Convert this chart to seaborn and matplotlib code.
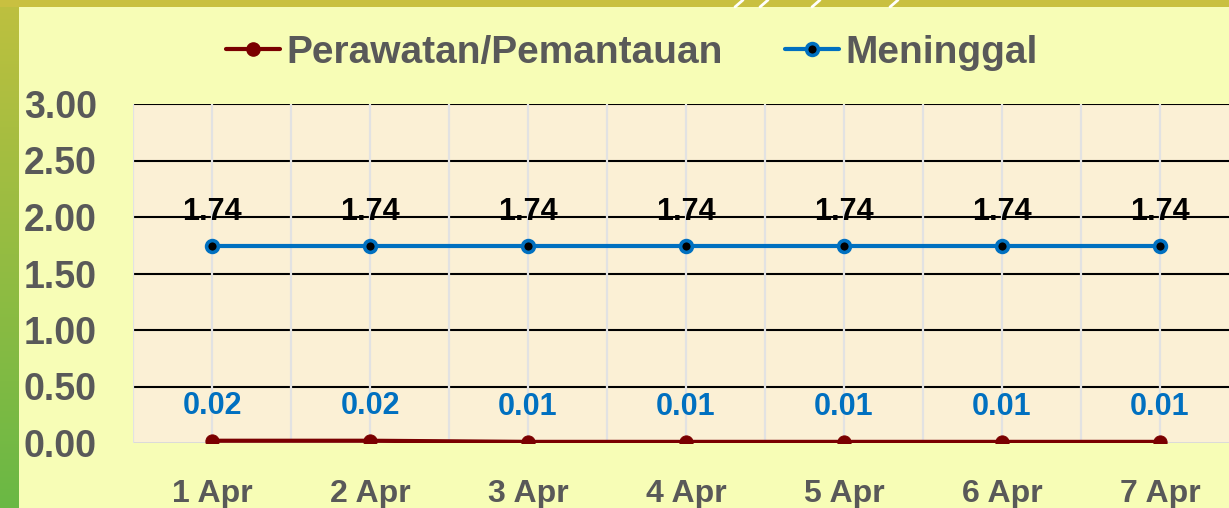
import numpy as np
import pandas as pd
import matplotlib
matplotlib.use("Agg")
import matplotlib.pyplot as plt
import seaborn as sns
from matplotlib.lines import Line2D
from matplotlib.patches import Rectangle
from matplotlib.colors import LinearSegmentedColormap

# ---- data ----
dates = ["1 Apr", "2 Apr", "3 Apr", "4 Apr", "5 Apr", "6 Apr", "7 Apr"]
perawatan = [0.02, 0.02, 0.01, 0.01, 0.01, 0.01, 0.01]
meninggal = [1.74, 1.74, 1.74, 1.74, 1.74, 1.74, 1.74]
series_names = ["Perawatan/Pemantauan", "Meninggal"]
yticks = [0.0, 0.5, 1.0, 1.5, 2.0, 2.5, 3.0]

sns.set_theme(style="white")
plt.rcParams['font.family'] = ['Liberation Sans', 'DejaVu Sans']

W, H = 1229, 508
fig = plt.figure(figsize=(W / 100, H / 100), dpi=100)
fig.patch.set_facecolor("#F7FDB6")

# decorative frame strips
fig.patches.append(Rectangle((0, 1 - 7 / H), 1, 7 / H, transform=fig.transFigure,
                             facecolor="#C9C040", edgecolor="none", zorder=0))
grad = np.linspace(0, 1, 256).reshape(-1, 1)
cmap = LinearSegmentedColormap.from_list("g", ["#BEC03F", "#6AB845"])
gax = fig.add_axes([0, 0, 19 / W, 1])
gax.imshow(grad, aspect="auto", cmap=cmap, extent=[0, 1, 0, 1], origin="upper")
gax.axis("off")
for x0 in [735, 760, 812, 890]:
    fig.add_artist(Line2D([x0 / W, (x0 + 8) / W], [1 - 7 / H, 1.0], transform=fig.transFigure,
                          color="white", lw=2.0, zorder=5))

left = 133 / W
bottom = (H - 443) / H
width = (1239 - 133) / W
height = (443 - 104) / H
ax = fig.add_axes([left, bottom, width, height])
ax.set_facecolor("#FBF0D5")

df = pd.DataFrame({"date": dates * 2,
                   "value": perawatan + meninggal,
                   "series": [series_names[0]] * 7 + [series_names[1]] * 7})

red = "#7A0000"
blue = "#0070C0"

d1 = df[df.series == series_names[0]]
d2 = df[df.series == series_names[1]]
sns.lineplot(data=d1, x="date", y="value", ax=ax, color=red, lw=3, marker="o",
             markersize=9.5, markerfacecolor=red, markeredgecolor=red, sort=False,
             legend=False, zorder=4)
sns.lineplot(data=d2, x="date", y="value", ax=ax, color=blue, lw=3, marker="o",
             markersize=8.5, markerfacecolor="black", markeredgecolor=blue,
             markeredgewidth=2.6, sort=False, legend=False, zorder=4)

ax.set_xlim(-0.5, 6.5)
ax.set_ylim(0, 3)

# gridlines
for y in yticks[1:]:
    ax.axhline(y, color="black", lw=1.5, zorder=0.5)
ax.axhline(0, color="#D9D9D9", lw=2, zorder=0.5)
for xv in np.arange(-0.5, 7.0, 0.5):
    ax.axvline(xv, color="#E2E2E2", lw=1.6, zorder=0.6)

for s in ax.spines.values():
    s.set_visible(False)

ax.set_xticks(range(len(dates)))
ax.set_xticklabels(dates)
ax.set_yticks(yticks)
ax.set_yticklabels([f"{v:.2f}" for v in yticks])
ax.tick_params(axis="x", length=0, pad=26, labelsize=23, labelcolor="#595959")
ax.tick_params(axis="y", length=0, pad=26, labelsize=27, labelcolor="#595959")
for lab in ax.get_xticklabels() + ax.get_yticklabels():
    lab.set_fontweight("bold")
ax.set_xlabel("")
ax.set_ylabel("")

# data labels (as displayed)
for i in range(len(dates)):
    ax.annotate(f"{meninggal[i]:.2f}", (i, meninggal[i]), xytext=(0, 25),
                textcoords="offset points", ha="center", va="center",
                fontsize=22, fontweight="bold", color="black", zorder=6)
    ax.annotate(f"{perawatan[i]:.2f}", (i, perawatan[i]), xytext=(0, 25),
                textcoords="offset points", ha="center", va="center",
                fontsize=22, fontweight="bold", color=blue, zorder=6)

handles = [
    Line2D([], [], color=red, lw=3, marker="o", markersize=9.5,
           markerfacecolor=red, markeredgecolor=red),
    Line2D([], [], color=blue, lw=3, marker="o", markersize=8.5,
           markerfacecolor="black", markeredgecolor=blue, markeredgewidth=2.6),
]
leg = fig.legend(handles, series_names, loc="center", bbox_to_anchor=(0.514, 1 - 53 / H),
                 ncol=2, frameon=False, handlelength=1.4, handletextpad=0.15,
                 columnspacing=1.6, prop={"size": 28, "weight": "bold"})
for t in leg.get_texts():
    t.set_color("#595959")

fig.savefig("out.png", dpi=100, facecolor=fig.get_facecolor())
